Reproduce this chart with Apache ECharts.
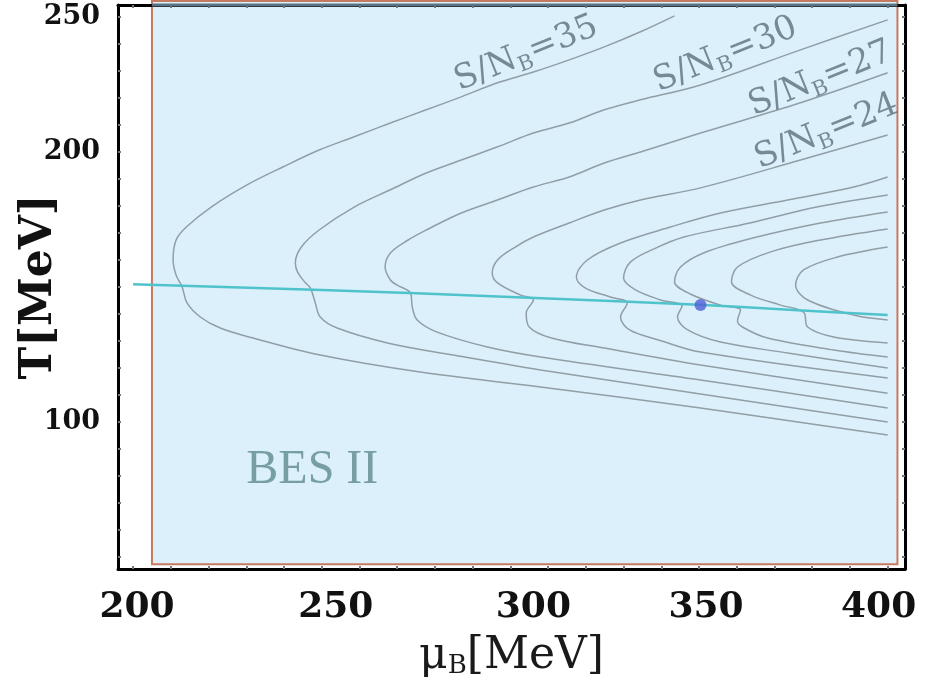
<!DOCTYPE html>
<html>
<head>
<meta charset="utf-8">
<script src="https://cdn.jsdelivr.net/npm/echarts@6/dist/echarts.min.js"></script>
<style>
  html, body { margin: 0; padding: 0; background: #ffffff; }
  #chart { width: 938px; height: 682px; }
</style>
</head>
<body>
<div id="chart"></div>
<script>
// Isentropes S/N_B = const in the (mu_B, T) plane, each as [mu_B (MeV), T (MeV)],
// running from the upper branch through the turning point to the lower branch.
const isentrope35 = [
  [343.5, 250.4], [334.5, 244.5], [324.9, 238.9], [315.6, 234.1], [306.1, 229.6],
  [296.6, 225.6], [287.0, 220.4], [277.7, 215.6], [268.2, 210.7], [258.6, 205.6],
  [249.3, 200.7], [239.8, 194.5], [230.2, 187.8], [220.7, 179.6], [214.1, 172.2],
  [211.4, 167.4], [210.6, 160.0], [211.4, 154.4], [213.0, 150.0], [214.3, 144.1],
  [217.8, 138.9], [223.1, 134.8], [231.8, 131.1], [249.6, 124.8], [276.1, 118.5],
  [308.0, 113.0], [350.4, 105.2], [400.0, 95.2]
];
const isentrope30 = [
  [400.0, 248.9], [376.9, 237.8], [350.4, 224.8], [334.5, 219.3], [324.9, 215.6],
  [315.6, 210.7], [306.1, 207.0], [296.6, 201.9], [287.0, 197.0], [277.7, 192.2],
  [268.2, 186.0], [258.6, 179.6], [249.3, 171.1], [244.6, 164.8], [243.0, 158.9],
  [243.6, 155.5], [245.4, 152.0], [247.0, 149.6], [248.3, 144.1], [249.6, 138.9],
  [254.1, 134.8], [267.4, 129.3], [284.9, 124.8], [308.0, 119.3], [350.4, 110.4],
  [400.0, 100.0]
];
const isentrope27 = [
  [400.0, 229.3], [376.9, 218.2], [350.4, 207.0], [334.5, 200.0], [324.9, 195.9],
  [315.6, 190.7], [306.1, 187.0], [296.6, 182.2], [287.0, 177.4], [277.7, 171.1],
  [272.9, 167.4], [268.2, 162.6], [266.8, 157.4], [268.2, 152.6], [270.0, 150.7],
  [273.5, 147.8], [274.0, 142.6], [275.3, 137.8], [280.6, 133.3], [293.9, 127.8],
  [308.0, 124.1], [350.4, 115.6], [400.0, 105.2]
];
const isentrope24 = [
  [400.0, 206.3], [376.9, 197.0], [350.4, 186.7], [334.5, 182.2], [324.9, 178.5],
  [315.6, 173.7], [306.1, 168.5], [301.3, 164.8], [296.6, 160.0], [295.2, 155.2],
  [296.6, 151.5], [302.7, 147.0], [306.1, 145.2], [304.2, 140.4], [305.0, 135.2],
  [310.9, 131.1], [324.9, 127.4], [350.4, 121.1], [400.0, 110.7]
];
const isentropeE = [
  [400.0, 190.7], [391.0, 187.0], [373.5, 182.2], [355.7, 177.4], [342.4, 172.2],
  [329.2, 166.3], [320.4, 160.0], [317.5, 153.7], [319.9, 149.6], [326.5, 146.3],
  [331.0, 144.1], [329.2, 138.9], [331.6, 134.1], [339.3, 130.4], [350.4, 125.9],
  [400.0, 116.3]
];
const isentropeF = [
  [400.0, 184.1], [381.2, 179.6], [363.5, 173.7], [346.0, 168.5], [337.9, 164.0],
  [331.8, 159.2], [330.0, 153.3], [333.2, 148.9], [339.8, 145.2], [345.5, 143.0],
  [344.3, 138.9], [347.0, 134.1], [355.7, 129.6], [373.5, 125.6], [400.0, 120.0]
];
const isentropeG = [
  [400.0, 177.8], [382.2, 173.7], [364.5, 168.2], [351.2, 162.6], [345.1, 157.4],
  [343.5, 151.9], [347.7, 147.4], [355.7, 143.3], [361.0, 141.5], [360.2, 137.5],
  [361.5, 135.2], [368.2, 131.1], [385.7, 126.7], [400.0, 124.1]
];
const isentropeH = [
  [400.0, 171.5], [382.2, 167.4], [369.0, 163.0], [360.2, 157.4], [358.6, 151.9],
  [363.7, 147.0], [371.6, 143.3], [377.7, 140.7], [378.8, 135.2], [385.7, 131.5],
  [400.0, 129.3]
];
const isentropeI = [
  [400.0, 164.8], [386.7, 161.1], [377.7, 156.3], [375.6, 150.7], [378.8, 145.2],
  [391.0, 139.6], [400.0, 137.8]
];

// Chemical freeze-out line and the marked point on it
const freezeoutLine = [[200, 151.0], [250, 148.9], [300, 146.3], [350, 143.4], [375, 141.5], [400, 139.6]];
const markedPoint = [[350.4, 143.3]];

// BES II coverage in mu_B and T
const besMu = [205.0, 402.6];
const besT = [47.4, 255.9];

// Contour labels: S/N_B value and where it sits
const labelValues = [35, 30, 27, 24];
const labelAnchors = [[304.2, 236.3], [357.0, 235.9], [382.2, 227.0], [383.8, 207.4]];

// Axis ranges, ticks and tick labels
const muRange = [196, 404.6];
const tRange = [45.6, 254.4];
const muTicks = [200, 210, 220, 230, 240, 250, 260, 270, 280, 290, 300, 310, 320, 330, 340, 350, 360, 370, 380, 390, 400];
const tTicks = [50, 60, 70, 80, 90, 100, 110, 120, 130, 140, 150, 160, 170, 180, 190, 200, 210, 220, 230, 240, 250];
const muLabels = [200, 250, 300, 350, 400];
const tLabels = [100, 200, 250];

const chart = echarts.init(document.getElementById('chart'), null, { renderer: 'canvas' });

const frameColor = '#000000';
const tickStyle = { show: true, inside: true, length: 3, lineStyle: { color: '#6f7a80', width: 2 } };
const serif = 'DejaVu Serif';

function axisBase(extra) {
  return Object.assign({
    type: 'value',
    z: 5,
    axisLine: { show: true, onZero: false, lineStyle: { color: frameColor, width: 3 } },
    splitLine: { show: false },
    axisLabel: { show: false }
  }, extra);
}

// x tick labels sit a little right of their ticks, as in the original layout
const muLabelPad = { 200: [0, 0, 0, 8], 250: [0, 0, 0, 28], 300: [0, 0, 0, 46], 350: [0, 0, 0, 14], 400: [0, 18, 0, 0] };
const muLabelRich = {};
muLabels.forEach(v => {
  muLabelRich['p' + v] = { fontFamily: serif, fontWeight: 'bold', fontSize: 36, color: '#111', padding: muLabelPad[v] };
});

const contourStyle = { color: '#919ea5', width: 1.5 };
function contour(data) {
  return {
    type: 'line', data: data, symbol: 'none', smooth: 0.35, z: 2, silent: true,
    lineStyle: contourStyle, clip: true
  };
}

const option = {
  animation: false,
  backgroundColor: '#ffffff',
  grid: { left: 118, right: 33, top: 5, bottom: 113, outerBoundsMode: 'none', containLabel: false },
  xAxis: [
    axisBase({
      position: 'bottom', min: muRange[0], max: muRange[1],
      axisTick: Object.assign({ customValues: muTicks }, tickStyle),
      axisLabel: {
        show: true, customValues: muLabels, margin: 21,
        fontFamily: serif, fontWeight: 'bold', fontSize: 36, color: '#111',
        formatter: v => '{p' + v + '|' + v + '}',
        rich: muLabelRich
      },
      name: '{a|μ}{b|B}{a|[MeV]}',
      nameLocation: 'middle', nameGap: 60, nameMoveOverlap: false,
      nameTextStyle: {
        rich: {
          a: { fontFamily: serif, fontSize: 44, color: '#1a1a1a', lineHeight: 50, verticalAlign: 'bottom' },
          b: { fontFamily: serif, fontSize: 26, color: '#1a1a1a', lineHeight: 30, verticalAlign: 'bottom' }
        }
      }
    }),
    axisBase({
      position: 'top', min: muRange[0], max: muRange[1],
      axisTick: Object.assign({ customValues: muTicks }, tickStyle)
    })
  ],
  yAxis: [
    axisBase({
      position: 'left', min: tRange[0], max: tRange[1],
      axisTick: Object.assign({ customValues: tTicks }, tickStyle),
      axisLabel: {
        show: true, customValues: tLabels, margin: 18,
        fontFamily: serif, fontWeight: 'bold', fontSize: 27, color: '#111'
      },
      name: 'T[MeV]', nameLocation: 'middle', nameGap: 56, nameMoveOverlap: false,
      nameTextStyle: { fontFamily: serif, fontWeight: 'bold', fontSize: 44, color: '#111' }
    }),
    axisBase({
      position: 'right', min: tRange[0], max: tRange[1],
      axisTick: Object.assign({ customValues: tTicks }, tickStyle)
    })
  ],
  series: [
    {
      // BES II band
      type: 'custom', z: 1, silent: true, clip: false,
      encode: { x: [0, 2], y: [1, 3] },
      data: [[besMu[0], besT[0], besMu[1], besT[1]]],
      renderItem: function (params, api) {
        const p0 = api.coord([api.value(0), api.value(3)]);
        const p1 = api.coord([api.value(2), api.value(1)]);
        return {
          type: 'rect',
          shape: { x: p0[0], y: p0[1], width: p1[0] - p0[0], height: p1[1] - p0[1] },
          style: { fill: '#dcf0fb', stroke: '#c57a60', lineWidth: 2 }
        };
      }
    },
    {
      // frame edge running along the top of the band
      type: 'line', z: 6, silent: true, symbol: 'none', clip: false,
      data: [[besMu[0], tRange[1]], [besMu[1], tRange[1]]],
      lineStyle: { color: '#5a7282', width: 3 }
    },
    contour(isentrope35),
    contour(isentrope30),
    contour(isentrope27),
    contour(isentrope24),
    contour(isentropeE),
    contour(isentropeF),
    contour(isentropeG),
    contour(isentropeH),
    contour(isentropeI),
    {
      type: 'line', data: freezeoutLine, symbol: 'none', smooth: 0.3, z: 3, silent: true, clip: false,
      lineStyle: { color: '#4fc3cb', width: 2.5 }
    },
    {
      type: 'scatter', data: markedPoint, z: 4, silent: true,
      symbol: 'circle', symbolSize: 12,
      itemStyle: { color: '#4d5fd6' }
    },
    {
      // S/N_B contour labels
      type: 'scatter', z: 4, silent: true, symbolSize: 0,
      data: labelAnchors.map((p, i) => [p[0], p[1], labelValues[i]]),
      label: {
        show: true, position: 'inside', rotate: 22,
        formatter: p => '{t|S/N}{s|B}{t|=' + p.value[2] + '}',
        rich: {
          t: { fontFamily: serif, fontSize: 34, color: '#5b717d', lineHeight: 40, verticalAlign: 'middle' },
          s: { fontFamily: serif, fontSize: 21, color: '#5b717d', lineHeight: 21, verticalAlign: 'bottom' }
        }
      }
    },
    {
      type: 'scatter', z: 4, silent: true, symbolSize: 0,
      data: [[247.5, 82.2]],
      label: {
        show: true, position: 'inside', formatter: 'BES II',
        fontFamily: 'Liberation Serif', fontSize: 48, color: '#5e8a8b'
      }
    }
  ]
};

chart.setOption(option);
</script>
</body>
</html>
